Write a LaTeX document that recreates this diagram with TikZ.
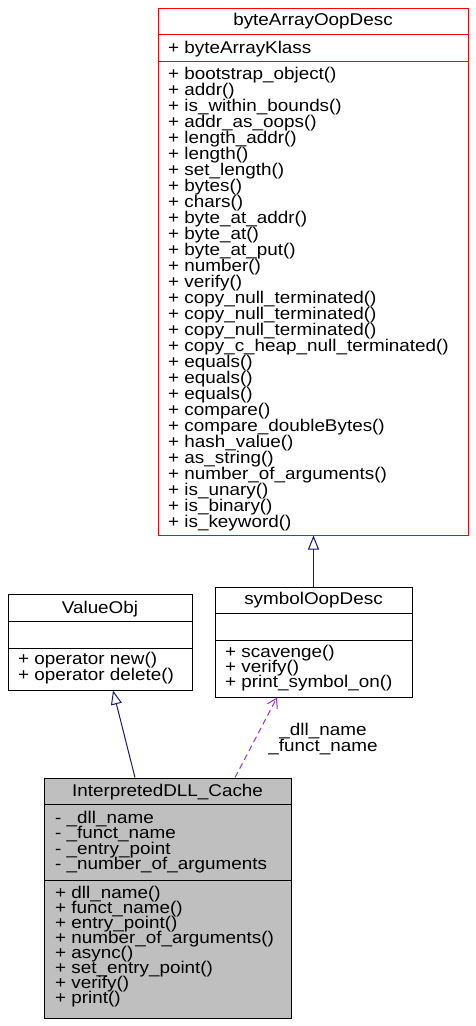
\documentclass[tikz,border=0pt]{standalone}
\usepackage{fontspec}
\setmainfont{Liberation Sans}[FakeStretch=1.11]
\usetikzlibrary{arrows.meta}
\definecolor{edgeblue}{HTML}{191970}
\definecolor{edgepurple}{HTML}{9A32CD}
\definecolor{boxred}{HTML}{FF0000}
\definecolor{boxgray}{HTML}{BFBFBF}
\begin{document}
\begin{tikzpicture}[x=1pt,y=-1pt,
  classbox/.style={draw=black, line width=1pt, inner sep=0pt, minimum width=#1},
  txt/.style={anchor=base west, inner sep=0pt, font=\fontsize{17}{15}\selectfont},
  ttl/.style={anchor=base, inner sep=0pt, font=\fontsize{17}{15}\selectfont},
  sep/.style={draw=black, line width=1pt},
  inh/.style={draw=edgeblue, line width=1pt, -{Triangle[open,length=14pt,width=11pt]}},
  usage/.style={draw=edgepurple, line width=1pt, dash pattern=on 6pt off 4pt, -{Straight Barb[length=9pt,width=11pt]}}
]
\useasboundingbox (0,0) rectangle (475,1026);

% byteArrayOopDesc
\node[classbox=310pt, minimum height=527pt, draw=boxred] (byte) at (313,271.5) {};
\draw[sep, draw=boxred] (158,34) -- (468,34);
\draw[sep, draw=boxred] (158,61) -- (468,61);
\node[ttl] (bytet) at (313,25) {byteArrayOopDesc};
\node[txt] (bytea) at (168,53) {+ byteArrayKlass};
\foreach \t [count=\i from 0] in {bootstrap\_object(), addr(), is\_within\_bounds(), addr\_as\_oops(), length\_addr(), length(), set\_length(), bytes(), chars(), byte\_at\_addr(), byte\_at(), byte\_at\_put(), number(), verify(), copy\_null\_terminated(), copy\_null\_terminated(), copy\_null\_terminated(), copy\_c\_heap\_null\_terminated(), equals(), equals(), equals(), compare(), compare\_doubleBytes(), hash\_value(), as\_string(), number\_of\_arguments(), is\_unary(), is\_binary(), is\_keyword()}
  \node[txt] (bm\i) at (168,79+16*\i) {+ \t};

% ValueObj
\node[classbox=184pt, minimum height=96pt] (value) at (100,642) {};
\draw[sep] (8,621) -- (192,621);
\draw[sep] (8,648) -- (192,648);
\node[ttl] (valuet) at (100,613) {ValueObj};
\node[txt] (vm0) at (18,664) {+ operator new()};
\node[txt] (vm1) at (18,680) {+ operator delete()};

% symbolOopDesc
\node[classbox=197pt, minimum height=110pt] (sym) at (313.5,642) {};
\draw[sep] (215,613) -- (412,613);
\draw[sep] (215,640) -- (412,640);
\node[ttl] (symt) at (313.5,604) {symbolOopDesc};
\node[txt] (sm0) at (225,657) {+ scavenge()};
\node[txt] (sm1) at (225,672) {+ verify()};
\node[txt] (sm2) at (225,687) {+ print\_symbol\_on()};

% InterpretedDLL_Cache
\node[classbox=247pt, minimum height=240pt, fill=boxgray] (cache) at (167.5,898) {};
\draw[sep] (44,804) -- (291,804);
\draw[sep] (44,880) -- (291,880);
\node[ttl] (cachet) at (167.5,796) {InterpretedDLL\_Cache};
\foreach \t [count=\i from 0] in {\_dll\_name, \_funct\_name, \_entry\_point, \_number\_of\_arguments}
  \node[txt] (ca\i) at (55,823+15.5*\i) {- \t};
\foreach \t [count=\i from 0] in {dll\_name(), funct\_name(), entry\_point(), number\_of\_arguments(), async(), set\_entry\_point(), verify(), print()}
  \node[txt] (cm\i) at (55,898+15*\i) {+ \t};

% connectors
\draw[inh] (sym.north) -- (sym.north |- byte.south);
\draw[inh] ([xshift=-32.5pt]cache.north) -- ([xshift=13pt]value.south);
\draw[usage] ([xshift=67.5pt]cache.north) -- ([xshift=-36.5pt]sym.south);
\node[ttl] (lbl1) at (323,735) {\_dll\_name};
\node[ttl] (lbl2) at (323,751) {\_funct\_name};
\end{tikzpicture}
\end{document}
